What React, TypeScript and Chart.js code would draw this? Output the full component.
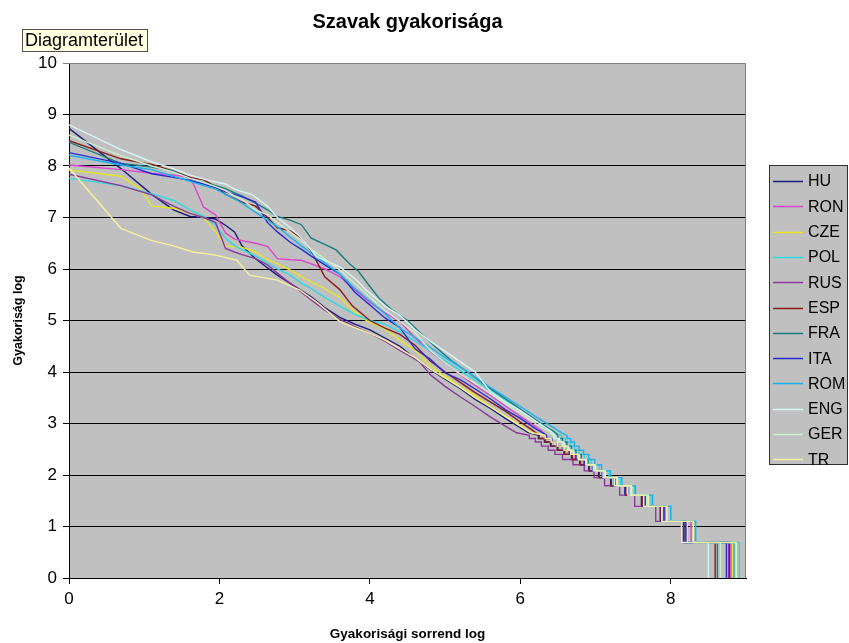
import React, { useEffect, useRef } from 'react';
import { Chart, registerables } from 'chart.js';

Chart.register(...registerables);

const FONT = '"Liberation Sans", Arial, sans-serif';

const seriesNames = ['HU', 'RON', 'CZE', 'POL', 'RUS', 'ESP', 'FRA', 'ITA', 'ROM', 'ENG', 'GER', 'TR'];
const seriesColors = ['#1c1c7a', '#dd44cc', '#e6e620', '#30d8e0', '#8a3a9a', '#8a1c1c', '#1c7c7c', '#2a2ad0', '#18b4f0', '#d8f4f4', '#cceecc', '#f4f0a0'];

const xTickValues = [0, 2, 4, 6, 8];
const yTickValues = [0, 1, 2, 3, 4, 5, 6, 7, 8, 9, 10];

// log of word frequency for the stepped tail (frequencies 16 ... 1)
const tailLevels = [2.77, 2.71, 2.64, 2.56, 2.48, 2.40, 2.30, 2.20, 2.08, 1.95, 1.79, 1.61, 1.39, 1.10, 0.69, 0];

const huHead = [[0, 8.73], [0.69, 7.95], [1.10, 7.45], [1.39, 7.15], [1.61, 7.02], [1.79, 7.0], [1.95, 6.97], [2.08, 6.85], [2.20, 6.72], [2.30, 6.45], [2.48, 6.2], [2.64, 6.02], [2.77, 5.88], [2.94, 5.72], [3.09, 5.58], [3.22, 5.46], [3.40, 5.25], [3.60, 5.06], [3.80, 4.93], [4.00, 4.82], [4.20, 4.66], [4.40, 4.5], [4.60, 4.26], [4.80, 4.05], [5.00, 3.86], [5.20, 3.68], [5.40, 3.47], [5.60, 3.30], [5.80, 3.10], [6.00, 2.92], [6.10, 2.83]];
const huDrops = [6.24, 6.32, 6.40, 6.49, 6.58, 6.68, 6.79, 6.91, 7.04, 7.20, 7.39, 7.61, 7.86, 8.19, 8.78];

const ronHead = [[0, 8.02], [0.69, 7.93], [1.10, 7.86], [1.39, 7.82], [1.61, 7.79], [1.70, 7.5], [1.79, 7.2], [1.95, 7.05], [2.08, 6.7], [2.20, 6.58], [2.48, 6.5], [2.64, 6.44], [2.77, 6.2], [2.94, 6.18], [3.09, 6.17], [3.22, 6.1], [3.40, 6.0], [3.60, 5.85], [3.80, 5.6], [4.00, 5.35], [4.20, 5.15], [4.40, 4.98], [4.60, 4.66], [4.80, 4.4], [5.00, 4.18], [5.20, 3.95], [5.40, 3.74], [5.60, 3.55], [5.80, 3.34], [6.00, 3.14], [6.20, 2.94], [6.28, 2.86]];
const ronDrops = [6.33, 6.40, 6.47, 6.55, 6.64, 6.73, 6.84, 6.96, 7.09, 7.25, 7.44, 7.66, 7.91, 8.27, 8.80];

const czeHead = [[0, 7.92], [0.69, 7.8], [0.94, 7.57], [1.10, 7.22], [1.39, 7.18], [1.61, 7.08], [1.79, 7.0], [1.95, 6.72], [2.08, 6.45], [2.20, 6.43], [2.30, 6.42], [2.48, 6.33], [2.64, 6.18], [2.77, 6.1], [2.94, 5.98], [3.09, 5.85], [3.22, 5.75], [3.40, 5.62], [3.60, 5.45], [3.73, 5.26], [3.90, 5.05], [4.00, 4.96], [4.17, 4.86], [4.40, 4.62], [4.60, 4.42], [4.80, 4.12], [5.00, 3.92], [5.20, 3.71], [5.40, 3.54], [5.60, 3.33], [5.80, 3.15], [6.00, 2.97], [6.12, 2.84]];
const czeDrops = [6.31, 6.39, 6.47, 6.56, 6.65, 6.75, 6.86, 6.98, 7.11, 7.27, 7.46, 7.68, 7.93, 8.30, 8.82];

const polHead = [[0, 7.76], [0.69, 7.62], [1.10, 7.46], [1.39, 7.33], [1.61, 7.15], [1.79, 7.02], [1.95, 6.85], [2.08, 6.6], [2.20, 6.45], [2.30, 6.38], [2.48, 6.25], [2.64, 6.12], [2.77, 6.0], [2.94, 5.88], [3.09, 5.72], [3.22, 5.62], [3.40, 5.45], [3.60, 5.28], [3.80, 5.12], [4.00, 5.0], [4.20, 4.93], [4.40, 4.78], [4.60, 4.6], [4.80, 4.41], [5.00, 4.22], [5.20, 4.03], [5.40, 3.84], [5.60, 3.64], [5.80, 3.45], [6.00, 3.27], [6.20, 3.07], [6.40, 2.88], [6.50, 2.8]];
const polDrops = [6.55, 6.60, 6.66, 6.72, 6.78, 6.85, 6.94, 7.05, 7.18, 7.33, 7.52, 7.74, 8.00, 8.33, 8.91];

const rusHead = [[0, 7.84], [0.69, 7.62], [1.10, 7.44], [1.39, 7.22], [1.61, 7.08], [1.79, 7.0], [1.95, 6.9], [2.08, 6.4], [2.20, 6.33], [2.30, 6.28], [2.48, 6.2], [2.64, 6.08], [2.77, 5.92], [2.94, 5.72], [3.09, 5.55], [3.22, 5.4], [3.40, 5.2], [3.60, 5.02], [3.80, 4.88], [4.00, 4.75], [4.20, 4.6], [4.40, 4.42], [4.66, 4.2], [4.80, 3.95], [5.00, 3.72], [5.20, 3.52], [5.40, 3.33], [5.60, 3.13], [5.80, 2.95], [5.95, 2.82]];
const rusDrops = [6.12, 6.20, 6.28, 6.37, 6.46, 6.56, 6.70, 6.85, 6.98, 7.12, 7.32, 7.52, 7.80, 8.14, 8.77];

const espHead = [[0, 8.49], [0.69, 8.14], [1.10, 8.03], [1.39, 7.9], [1.61, 7.78], [1.79, 7.73], [1.95, 7.6], [2.08, 7.45], [2.20, 7.37], [2.30, 7.3], [2.48, 7.22], [2.64, 7.0], [2.77, 6.8], [2.94, 6.74], [3.09, 6.6], [3.22, 6.35], [3.40, 5.85], [3.60, 5.6], [3.77, 5.28], [4.00, 5.0], [4.20, 4.85], [4.40, 4.73], [4.60, 4.52], [4.80, 4.22], [5.00, 4.0], [5.20, 3.8], [5.40, 3.6], [5.60, 3.42], [5.80, 3.24], [6.00, 3.03], [6.15, 2.88]];
const espDrops = [6.25, 6.33, 6.41, 6.50, 6.59, 6.69, 6.80, 6.92, 7.05, 7.21, 7.40, 7.62, 7.87, 8.17, 8.59];

const fraHead = [[0, 8.46], [0.69, 8.05], [1.10, 7.98], [1.39, 7.9], [1.61, 7.75], [1.79, 7.68], [1.95, 7.62], [2.08, 7.56], [2.20, 7.48], [2.30, 7.42], [2.48, 7.28], [2.64, 7.15], [2.77, 7.02], [2.94, 6.95], [3.09, 6.86], [3.22, 6.6], [3.40, 6.48], [3.55, 6.37], [3.73, 6.1], [3.85, 5.95], [4.00, 5.66], [4.13, 5.42], [4.30, 5.2], [4.50, 5.0], [4.70, 4.72], [4.90, 4.45], [5.10, 4.2], [5.30, 4.0], [5.50, 3.78], [5.70, 3.58], [5.90, 3.38], [6.10, 3.18], [6.30, 2.98], [6.45, 2.84]];
const fraDrops = [6.50, 6.56, 6.62, 6.68, 6.74, 6.81, 6.90, 6.99, 7.11, 7.26, 7.44, 7.66, 7.93, 8.21, 8.62];

const itaHead = [[0, 8.26], [0.69, 8.05], [1.10, 7.85], [1.39, 7.78], [1.61, 7.72], [1.79, 7.65], [1.95, 7.58], [2.08, 7.5], [2.20, 7.45], [2.30, 7.4], [2.48, 7.3], [2.64, 6.9], [2.77, 6.72], [2.94, 6.52], [3.09, 6.38], [3.22, 6.25], [3.40, 6.08], [3.60, 5.9], [3.80, 5.55], [4.00, 5.3], [4.20, 5.05], [4.40, 4.86], [4.60, 4.45], [4.80, 4.25], [5.00, 3.98], [5.20, 3.85], [5.40, 3.67], [5.60, 3.48], [5.80, 3.27], [6.00, 3.1], [6.20, 2.9], [6.30, 2.82]];
const itaDrops = [6.35, 6.42, 6.49, 6.57, 6.65, 6.74, 6.85, 6.96, 7.09, 7.25, 7.44, 7.66, 7.91, 8.21, 8.74];

const romHead = [[0, 8.21], [0.69, 8.02], [1.10, 7.93], [1.39, 7.8], [1.61, 7.7], [1.79, 7.62], [1.95, 7.55], [2.08, 7.45], [2.20, 7.36], [2.30, 7.28], [2.48, 7.1], [2.64, 6.95], [2.77, 6.82], [2.94, 6.62], [3.09, 6.45], [3.22, 6.3], [3.40, 6.12], [3.60, 5.9], [3.80, 5.62], [4.00, 5.38], [4.20, 5.13], [4.40, 4.85], [4.60, 4.67], [4.80, 4.48], [5.00, 4.28], [5.20, 4.1], [5.40, 3.9], [5.60, 3.7], [5.80, 3.52], [6.00, 3.33], [6.20, 3.14], [6.40, 2.96], [6.55, 2.82]];
const romDrops = [6.62, 6.67, 6.72, 6.78, 6.84, 6.91, 6.99, 7.08, 7.20, 7.35, 7.53, 7.76, 8.00, 8.33, 8.84];

const engHead = [[0, 8.8], [0.69, 8.32], [1.10, 8.08], [1.39, 7.95], [1.61, 7.82], [1.83, 7.73], [2.08, 7.65], [2.20, 7.55], [2.44, 7.44], [2.64, 7.22], [2.77, 7.0], [2.94, 6.8], [3.09, 6.6], [3.29, 6.24], [3.60, 6.04], [3.82, 5.79], [3.95, 5.59], [4.22, 5.26], [4.40, 5.1], [4.60, 4.82], [4.80, 4.6], [5.00, 4.4], [5.20, 4.2], [5.40, 4.0], [5.60, 3.62], [5.80, 3.42], [6.00, 3.25], [6.20, 3.05], [6.40, 2.86]];
const engDrops = [6.46, 6.52, 6.58, 6.64, 6.71, 6.78, 6.87, 6.97, 7.10, 7.25, 7.43, 7.64, 7.88, 8.14, 8.50];

const gerHead = [[0, 8.6], [0.69, 8.2], [1.10, 8.0], [1.39, 7.88], [1.61, 7.76], [1.79, 7.68], [1.95, 7.6], [2.08, 7.52], [2.20, 7.42], [2.30, 7.35], [2.48, 7.15], [2.64, 7.05], [2.77, 6.9], [2.94, 6.72], [3.09, 6.55], [3.22, 6.38], [3.40, 6.2], [3.60, 5.98], [3.80, 5.72], [4.00, 5.45], [4.20, 5.2], [4.40, 4.98], [4.60, 4.76], [4.80, 4.42], [5.00, 4.18], [5.20, 3.96], [5.40, 3.78], [5.60, 3.58], [5.80, 3.38], [6.00, 3.2], [6.20, 3.0], [6.38, 2.84]];
const gerDrops = [6.44, 6.50, 6.56, 6.63, 6.70, 6.78, 6.88, 6.99, 7.12, 7.28, 7.46, 7.68, 7.94, 8.22, 8.66];

const trHead = [[0, 7.96], [0.69, 6.79], [1.10, 6.55], [1.39, 6.45], [1.65, 6.33], [1.95, 6.27], [2.23, 6.17], [2.40, 5.88], [2.76, 5.79], [3.07, 5.59], [3.30, 5.35], [3.60, 4.98], [3.80, 4.86], [4.00, 4.75], [4.20, 4.62], [4.40, 4.45], [4.60, 4.28], [4.80, 4.06], [5.00, 3.88], [5.20, 3.7], [5.40, 3.5], [5.60, 3.32], [5.80, 3.14], [6.00, 2.95], [6.15, 2.82]];
const trDrops = [6.33, 6.41, 6.49, 6.58, 6.67, 6.77, 6.88, 7.00, 7.13, 7.29, 7.48, 7.70, 7.95, 8.30, 8.87];

const heads = [huHead, ronHead, czeHead, polHead, rusHead, espHead, fraHead, itaHead, romHead, engHead, gerHead, trHead];
const drops = [huDrops, ronDrops, czeDrops, polDrops, rusDrops, espDrops, fraDrops, itaDrops, romDrops, engDrops, gerDrops, trDrops];

function buildPoints(head: number[][], dropXs: number[]) {
  const pts = head.map(([x, y]) => ({ x, y }));
  dropXs.forEach((d, i) => {
    pts.push({ x: d, y: tailLevels[i] });
    pts.push({ x: d, y: tailLevels[i + 1] });
  });
  return pts;
}

const backgroundPlugin = {
  id: 'plotBg',
  beforeDraw(chart: any) {
    const { ctx, chartArea: a } = chart;
    ctx.save();
    ctx.fillStyle = '#ffffff';
    ctx.fillRect(0, 0, chart.width, chart.height);
    ctx.fillStyle = '#c0c0c0';
    ctx.fillRect(a.left, a.top, a.right - a.left, a.bottom - a.top);
    ctx.restore();
  },
  afterDraw(chart: any) {
    const { ctx, chartArea: a } = chart;
    ctx.save();
    // plot border (top/right)
    ctx.strokeStyle = '#808080';
    ctx.lineWidth = 1;
    ctx.beginPath();
    ctx.moveTo(a.left, a.top + 0.5);
    ctx.lineTo(a.right - 0.5, a.top + 0.5);
    ctx.lineTo(a.right - 0.5, a.bottom);
    ctx.stroke();

    // legend box
    const lx = a.right + 23;
    const ly = 165;
    const lw = 79;
    const lh = 300;
    ctx.fillStyle = '#c0c0c0';
    ctx.fillRect(lx, ly, lw, lh);
    ctx.strokeStyle = '#303030';
    ctx.strokeRect(lx + 0.5, ly + 0.5, lw - 1, lh - 1);
    ctx.font = `16px ${FONT}`;
    ctx.textBaseline = 'middle';
    ctx.textAlign = 'left';
    chart.data.datasets.forEach((ds: any, i: number) => {
      const y = ly + 16 + i * 25.3;
      ctx.strokeStyle = ds.borderColor;
      ctx.lineWidth = 1.5;
      ctx.beginPath();
      ctx.moveTo(lx + 4, Math.round(y) + 0.5);
      ctx.lineTo(lx + 34, Math.round(y) + 0.5);
      ctx.stroke();
      ctx.fillStyle = '#000000';
      ctx.fillText(ds.label, lx + 39, y + 1);
    });

    // "Diagramterület" tooltip box
    ctx.fillStyle = '#ffffe1';
    ctx.fillRect(22, 29, 126, 23);
    ctx.strokeStyle = '#505050';
    ctx.lineWidth = 1;
    ctx.strokeRect(22.5, 29.5, 125, 22);
    ctx.fillStyle = '#000000';
    ctx.font = `18px ${FONT}`;
    ctx.fillText('Diagramterület', 25, 41);
    ctx.restore();
  },
};

export default function App() {
  const canvasRef = useRef<HTMLCanvasElement | null>(null);

  useEffect(() => {
    const canvas = canvasRef.current;
    if (!canvas) return;
    const datasets = seriesNames.map((name, i) => ({
      label: name,
      data: buildPoints(heads[i], drops[i]),
      borderColor: seriesColors[i],
      backgroundColor: seriesColors[i],
      borderWidth: 1.4,
      pointRadius: 0,
      tension: 0,
      fill: false,
      order: seriesNames.length - i,
    }));

    const chart = new Chart(canvas, {
      type: 'line',
      data: { datasets },
      options: {
        animation: false,
        responsive: false,
        devicePixelRatio: 1,
        layout: { padding: { left: 0, right: 103, top: 0, bottom: 0 } },
        plugins: {
          legend: { display: false },
          tooltip: { enabled: false },
          title: {
            display: true,
            text: 'Szavak gyakorisága',
            color: '#000',
            fullSize: false,
            font: { family: FONT, size: 20, weight: 'bold' },
            padding: { top: 10, bottom: 29 },
          },
        },
        scales: {
          x: {
            type: 'linear',
            min: 0,
            max: 9,
            afterFit: (s: any) => { s.height = 65; },
            afterBuildTicks: (s: any) => { s.ticks = xTickValues.map((v) => ({ value: v })); },
            ticks: { color: '#000', font: { family: FONT, size: 17 }, padding: 5, includeBounds: false },
            grid: { drawOnChartArea: false, drawTicks: true, tickLength: 6, color: '#000' },
            border: { color: '#000', width: 1 },
            title: {
              display: true,
              text: 'Gyakorisági sorrend log',
              color: '#000',
              font: { family: FONT, size: 13.5, weight: 'bold' },
              padding: { top: 0, bottom: 1 },
            },
          },
          y: {
            type: 'linear',
            min: 0,
            max: 10,
            afterFit: (s: any) => { s.width = 69; },
            afterBuildTicks: (s: any) => { s.ticks = yTickValues.map((v) => ({ value: v })); },
            ticks: { color: '#000', font: { family: FONT, size: 17 }, padding: 6 },
            grid: {
              color: (ctx: any) => (ctx.tick && ctx.tick.value === 10 ? '#808080' : '#000'),
              drawTicks: true,
              tickLength: 6,
              lineWidth: 1,
            },
            border: { color: '#000', width: 1 },
            title: {
              display: true,
              text: 'Gyakoriság log',
              color: '#000',
              font: { family: FONT, size: 12.5, weight: 'bold' },
              padding: { top: 11, bottom: 0 },
            },
          },
        },
      },
      plugins: [backgroundPlugin],
    });
    return () => chart.destroy();
  }, []);

  return (
    <div style={{ position: 'absolute', left: 0, top: 0, width: 849, height: 643, background: '#fff' }}>
      <canvas ref={canvasRef} width={849} height={643} style={{ display: 'block' }} />
    </div>
  );
}
